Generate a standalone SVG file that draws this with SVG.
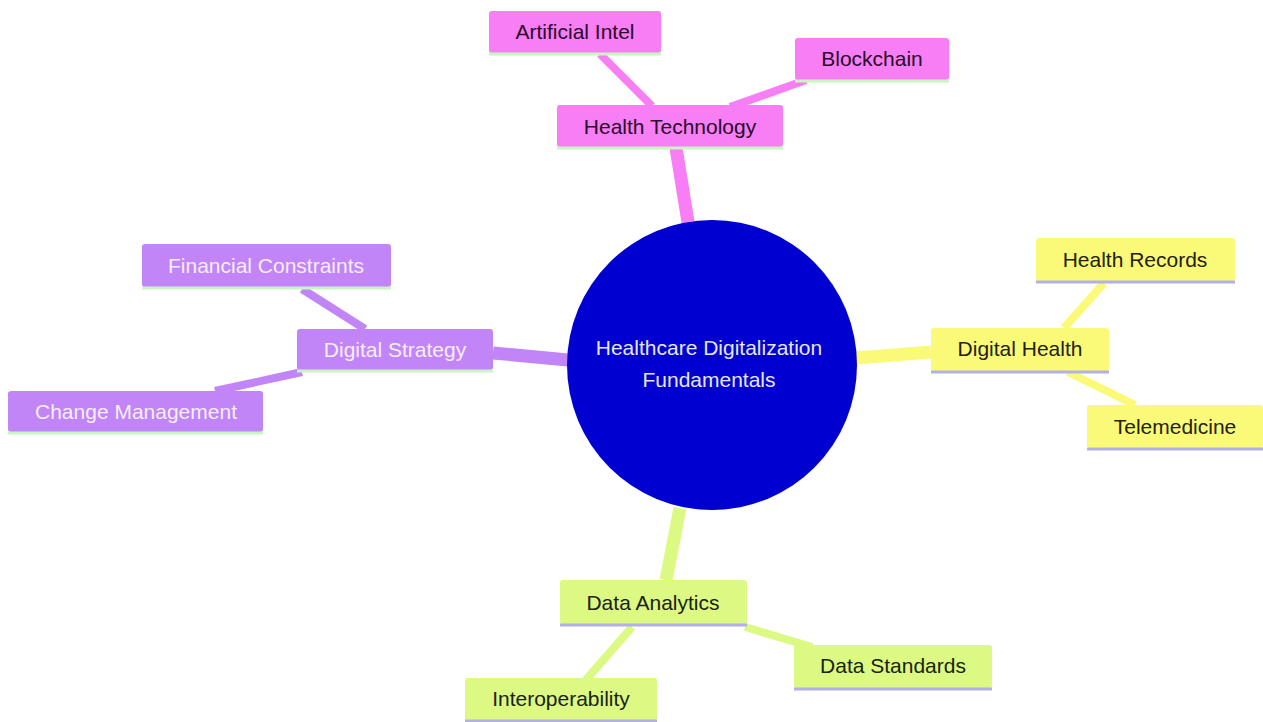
<svg xmlns="http://www.w3.org/2000/svg" width="1263" height="722" viewBox="0 0 1263 722">
<style>
  text { font-family: "Liberation Sans", Arial, sans-serif; font-size: 21px; text-anchor: middle; }
  .pk { fill: #f77ef5; }
  .pu { fill: #c285f7; }
  .ye { fill: #fbfa78; }
  .gr { fill: #dbf983; }
  .bl-g { stroke: #c8f5c0; stroke-width: 3; }
  .bl-p { stroke: #b2b0e6; stroke-width: 3; }
  .tpk { fill: #2a0a2a; }
  .tpu { fill: #f4eefc; }
  .tye { fill: #222211; }
  .tgr { fill: #1a2210; }
  .c { fill: none; stroke-linecap: butt; }
</style>
<rect width="1263" height="722" fill="#ffffff"/>
<g id="connectors">
  <line class="c" x1="688" y1="222" x2="676" y2="148" stroke="#f77ef5" stroke-width="13"/>
  <line class="c" x1="600" y1="54" x2="652" y2="106" stroke="#f77ef5" stroke-width="8"/>
  <line class="c" x1="806" y1="80" x2="730" y2="107" stroke="#f77ef5" stroke-width="8"/>
  <line class="c" x1="493" y1="353" x2="568" y2="360" stroke="#c285f7" stroke-width="13"/>
  <line class="c" x1="302" y1="289" x2="365" y2="329" stroke="#c285f7" stroke-width="8"/>
  <line class="c" x1="302" y1="372" x2="215" y2="391" stroke="#c285f7" stroke-width="8"/>
  <line class="c" x1="856" y1="358" x2="931" y2="352" stroke="#fbfa78" stroke-width="13"/>
  <line class="c" x1="1104" y1="283" x2="1064" y2="328" stroke="#fbfa78" stroke-width="8"/>
  <line class="c" x1="1068" y1="372" x2="1135" y2="405" stroke="#fbfa78" stroke-width="8"/>
  <line class="c" x1="680" y1="508" x2="666" y2="580" stroke="#dbf983" stroke-width="13"/>
  <line class="c" x1="745" y1="627" x2="812" y2="647" stroke="#dbf983" stroke-width="8"/>
  <line class="c" x1="632" y1="627" x2="585" y2="681" stroke="#dbf983" stroke-width="8"/>
</g>
<g id="root">
  <circle cx="712" cy="365" r="145" fill="#0000d0"/>
  <text x="709" y="355" fill="#e6e6f0">Healthcare Digitalization</text>
  <text x="709" y="387" fill="#e6e6f0">Fundamentals</text>
</g>
<g id="health-technology">
  <rect class="pk" x="557" y="105" width="226" height="42" rx="3"/>
  <line class="bl-g" x1="557" y1="148" x2="783" y2="148"/>
  <text class="tpk" x="670" y="134">Health Technology</text>
</g>
<g id="artificial-intel">
  <rect class="pk" x="489" y="11" width="172" height="42" rx="3"/>
  <line class="bl-g" x1="489" y1="54" x2="661" y2="54"/>
  <text class="tpk" x="575" y="39">Artificial Intel</text>
</g>
<g id="blockchain">
  <rect class="pk" x="795" y="38" width="154" height="42" rx="3"/>
  <line class="bl-g" x1="795" y1="81" x2="949" y2="81"/>
  <text class="tpk" x="872" y="66">Blockchain</text>
</g>
<g id="digital-strategy">
  <rect class="pu" x="297" y="329" width="196" height="41" rx="3"/>
  <line class="bl-g" x1="297" y1="371" x2="493" y2="371"/>
  <text class="tpu" x="395" y="357">Digital Strategy</text>
</g>
<g id="financial-constraints">
  <rect class="pu" x="142" y="244" width="249" height="43" rx="3"/>
  <line class="bl-g" x1="142" y1="288" x2="391" y2="288"/>
  <text class="tpu" x="266" y="273">Financial Constraints</text>
</g>
<g id="change-management">
  <rect class="pu" x="8" y="391" width="255" height="41" rx="3"/>
  <line class="bl-g" x1="8" y1="433" x2="263" y2="433"/>
  <text class="tpu" x="136" y="419">Change Management</text>
</g>
<g id="digital-health">
  <rect class="ye" x="931" y="328" width="178" height="43" rx="3"/>
  <line class="bl-p" x1="931" y1="372" x2="1109" y2="372"/>
  <text class="tye" x="1020" y="356">Digital Health</text>
</g>
<g id="health-records">
  <rect class="ye" x="1036" y="238" width="199" height="43" rx="3"/>
  <line class="bl-p" x1="1036" y1="282" x2="1235" y2="282"/>
  <text class="tye" x="1135" y="267">Health Records</text>
</g>
<g id="telemedicine">
  <rect class="ye" x="1087" y="405" width="176" height="43" rx="3"/>
  <line class="bl-p" x1="1087" y1="449" x2="1263" y2="449"/>
  <text class="tye" x="1175" y="434">Telemedicine</text>
</g>
<g id="data-analytics">
  <rect class="gr" x="560" y="580" width="187" height="44" rx="3"/>
  <line class="bl-p" x1="560" y1="625" x2="747" y2="625"/>
  <text class="tgr" x="653" y="610">Data Analytics</text>
</g>
<g id="data-standards">
  <rect class="gr" x="794" y="645" width="198" height="43" rx="3"/>
  <line class="bl-p" x1="794" y1="689" x2="992" y2="689"/>
  <text class="tgr" x="893" y="673">Data Standards</text>
</g>
<g id="interoperability">
  <rect class="gr" x="465" y="678" width="192" height="43" rx="3"/>
  <line class="bl-p" x1="465" y1="721" x2="657" y2="721"/>
  <text class="tgr" x="561" y="706">Interoperability</text>
</g>
</svg>
